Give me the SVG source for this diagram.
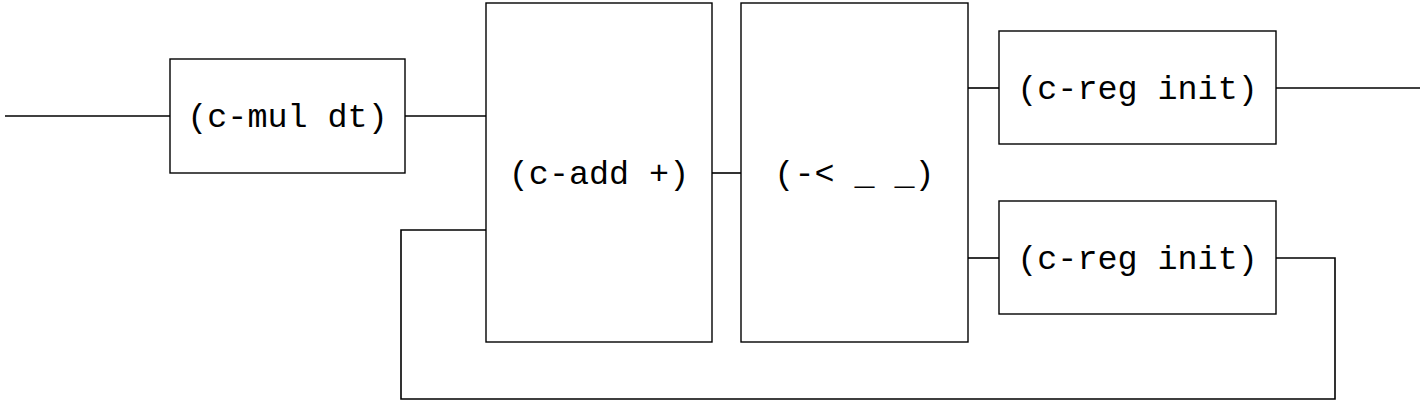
<svg xmlns="http://www.w3.org/2000/svg" width="1424" height="404" viewBox="0 0 1424 404">
<style>
.box{fill:#fff;stroke:#000;stroke-width:1.4}
.lbl{font-family:"Liberation Mono","DejaVu Sans Mono",monospace;font-size:33.4px;text-anchor:middle;fill:#000}
.wire{fill:none;stroke:#000;stroke-width:1.6}
</style>
<rect width="1424" height="404" fill="#fff"/>
<g id="connectors">
<path class="wire" d="M5 116H170"/>
<path class="wire" d="M405 116H486"/>
<path class="wire" d="M712 173H741"/>
<path class="wire" d="M968 88H999"/>
<path class="wire" d="M968 258H999"/>
<path class="wire" d="M1276 88H1420"/>
<path class="wire" d="M1276 258H1335V399H401V230H486"/>
</g>
<g id="cmul">
<rect class="box" x="170" y="59" width="235" height="114"/>
<text class="lbl" x="287.5" y="127">(c-mul dt)</text>
</g>
<g id="cadd">
<rect class="box" x="486" y="3" width="226" height="339"/>
<text class="lbl" x="599" y="184">(c-add +)</text>
</g>
<g id="split">
<rect class="box" x="741" y="3" width="227" height="339"/>
<text class="lbl" x="854.5" y="184">(-&lt; _ _)</text>
</g>
<g id="creg1">
<rect class="box" x="999" y="31" width="277" height="113"/>
<text class="lbl" x="1137.5" y="99">(c-reg init)</text>
</g>
<g id="creg2">
<rect class="box" x="999" y="201" width="277" height="113"/>
<text class="lbl" x="1137.5" y="269">(c-reg init)</text>
</g>
</svg>
